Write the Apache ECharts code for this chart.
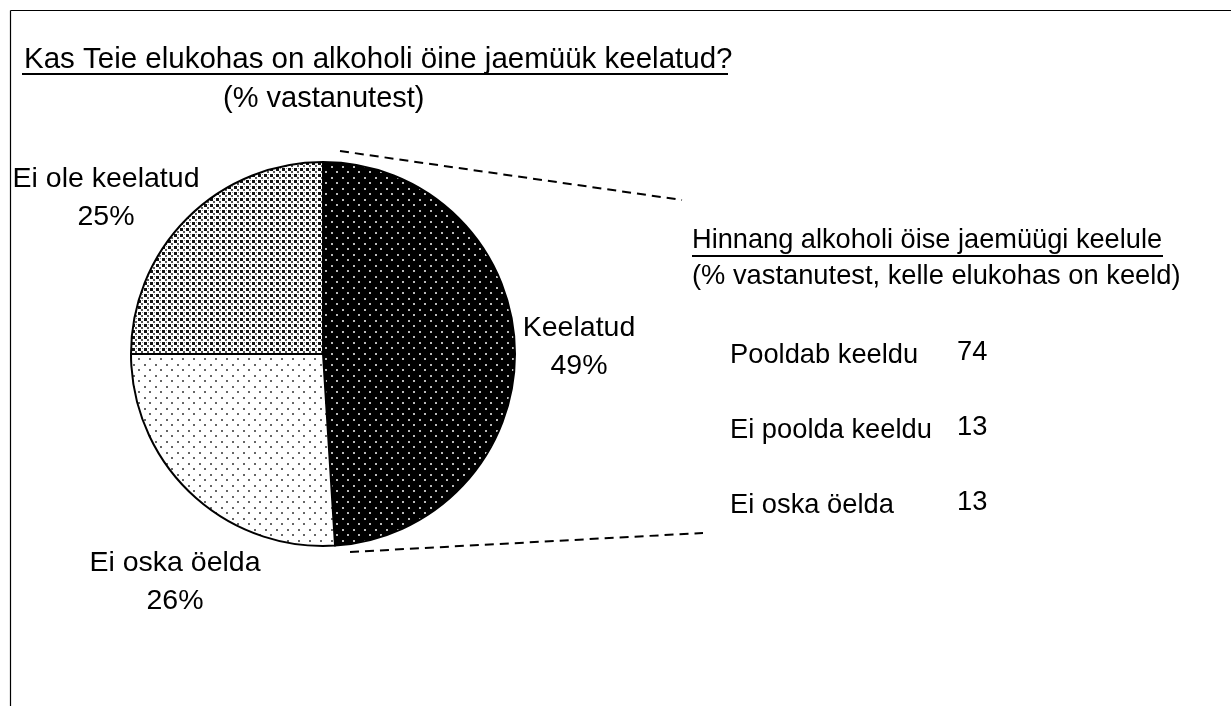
<!DOCTYPE html>
<html>
<head>
<meta charset="utf-8">
<script src="https://cdn.jsdelivr.net/npm/echarts@6/dist/echarts.min.js"></script>
<style>
  html, body { margin: 0; padding: 0; background: #fff; }
  #main { width: 1231px; height: 706px; }
</style>
</head>
<body>
<div id="main"></div>
<script>
// pie: kas elukohas on öine jaemüük keelatud
const pieNames = ['Keelatud', 'Ei oska öelda', 'Ei ole keelatud']
const pieValues = [49, 26, 25]
// hinnang keelule (kelle elukohas on keeld)
const opinionNames = ['Pooldab keeldu', 'Ei poolda keeldu', 'Ei oska öelda']
const opinionValues = [74, 13, 13]

const FONT = '"Liberation Sans", Arial, sans-serif'

// small canvas tiles for the black & white hatch fills
function makeTile(size, bg, dots) {
  const c = document.createElement('canvas')
  c.width = size
  c.height = size
  const ctx = c.getContext('2d')
  ctx.fillStyle = bg
  ctx.fillRect(0, 0, size, size)
  dots.forEach(d => {
    ctx.fillStyle = d[3]
    ctx.fillRect(d[0], d[1], d[2], d[2])
  })
  return { image: c, repeat: 'repeat' }
}

const fills = [
  makeTile(11, '#000', [[1, 1, 2, '#bbb'], [6, 6, 2, '#bbb']]),
  makeTile(11, '#fff', [[1, 1, 2, '#666'], [6, 6, 2, '#666']]),
  makeTile(6, '#fff', [[0, 0, 3, '#111'], [3, 3, 2, '#555'], [4, 0, 1, '#888']])
]

// where the pie labels sit (centre of the two-line label)
const pieLabelPos = [[579, 347], [175, 582], [106, 198]]

const chart = echarts.init(document.getElementById('main'))

const option = {
  backgroundColor: '#fff',
  animation: false,
  title: [
    {
      text: 'Kas Teie elukohas on alkoholi öine jaemüük keelatud?',
      left: 24, top: 45, padding: 0,
      textStyle: { fontFamily: FONT, fontSize: 29.5, fontWeight: 'normal', color: '#000' }
    },
    {
      text: '(% vastanutest)',
      left: 223, top: 84, padding: 0,
      textStyle: { fontFamily: FONT, fontSize: 29, fontWeight: 'normal', color: '#000' }
    },
    {
      text: 'Hinnang alkoholi öise jaemüügi keelule',
      left: 692, top: 227, padding: 0,
      textStyle: { fontFamily: FONT, fontSize: 27.2, fontWeight: 'normal', color: '#000' }
    },
    {
      text: '(% vastanutest, kelle elukohas on keeld)',
      left: 692, top: 263, padding: 0,
      textStyle: { fontFamily: FONT, fontSize: 27.3, fontWeight: 'normal', color: '#000' }
    }
  ],
  grid: { left: 957, top: 317.5, width: 200, height: 225 },
  xAxis: { type: 'value', min: 0, max: 100, show: false },
  yAxis: {
    type: 'category',
    inverse: true,
    data: opinionNames,
    axisLine: { show: false },
    axisTick: { show: false },
    splitLine: { show: false },
    axisLabel: {
      align: 'left',
      margin: 227,
      fontFamily: FONT,
      fontSize: 27.3,
      color: '#000'
    }
  },
  graphic: [
    // frame
    { type: 'line', shape: { x1: 10.5, y1: 10.5, x2: 1231, y2: 10.5 }, style: { stroke: '#000', lineWidth: 1.2 } },
    { type: 'line', shape: { x1: 10.5, y1: 10.5, x2: 10.5, y2: 706 }, style: { stroke: '#000', lineWidth: 1.2 } },
    // underlines
    { type: 'line', shape: { x1: 22, y1: 74, x2: 728, y2: 74 }, style: { stroke: '#000', lineWidth: 2 } },
    { type: 'line', shape: { x1: 692, y1: 256, x2: 1163, y2: 256 }, style: { stroke: '#000', lineWidth: 2 } },
    // connector lines
    { type: 'line', shape: { x1: 340, y1: 151, x2: 682, y2: 200 }, style: { stroke: '#000', lineWidth: 2, lineDash: [9, 6] } },
    { type: 'line', shape: { x1: 350, y1: 552, x2: 703, y2: 533 }, style: { stroke: '#000', lineWidth: 2, lineDash: [9, 6] } }
  ],
  series: [
    {
      type: 'pie',
      center: [323, 354],
      radius: 192,
      startAngle: 90,
      clockwise: true,
      data: pieNames.map((n, i) => ({ name: n, value: pieValues[i], itemStyle: { color: fills[i] } })),
      itemStyle: { borderColor: '#000', borderWidth: 2 },
      label: {
        show: true,
        position: 'outside',
        formatter: '{b}\n{c}%',
        fontFamily: FONT,
        fontSize: 28.5,
        lineHeight: 38,
        color: '#000',
        align: 'center',
        overflow: 'none',
        width: 260
      },
      labelLine: { show: false },
      labelLayout: params => ({
        x: pieLabelPos[params.dataIndex][0],
        y: pieLabelPos[params.dataIndex][1],
        align: 'center',
        verticalAlign: 'middle'
      }),
      emphasis: { disabled: true }
    },
    {
      type: 'bar',
      data: opinionValues,
      barWidth: 30,
      itemStyle: { color: 'rgba(0,0,0,0)' },
      label: {
        show: true,
        position: 'insideLeft',
        distance: 0,
        offset: [0, -3],
        formatter: '{c}',
        fontFamily: FONT,
        fontSize: 27.3,
        color: '#000'
      },
      emphasis: { disabled: true }
    }
  ]
}

chart.setOption(option)
</script>
</body>
</html>
